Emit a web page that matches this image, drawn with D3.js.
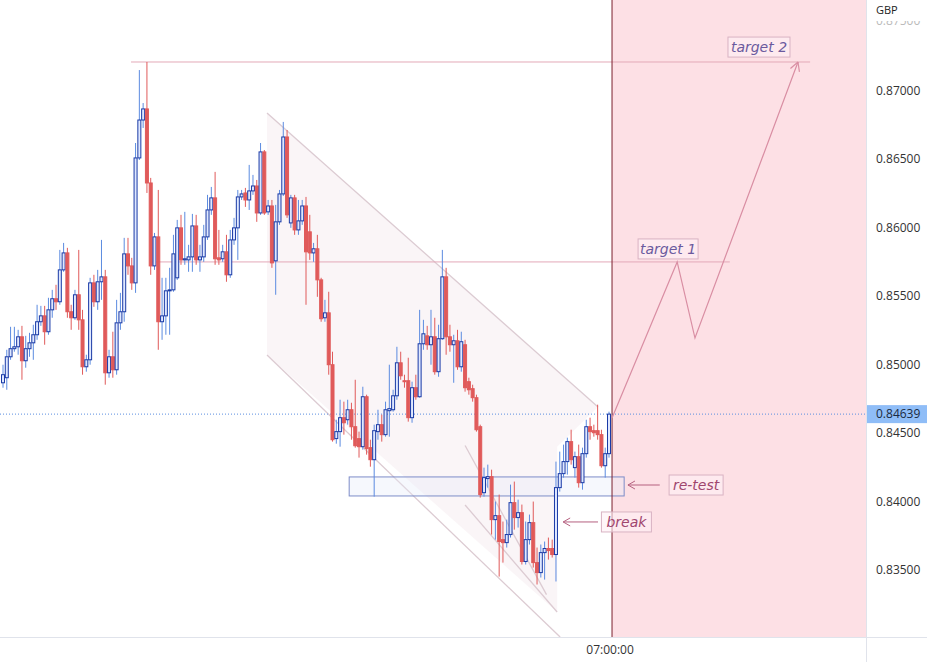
<!DOCTYPE html>
<html><head><meta charset="utf-8">
<script src="https://cdn.jsdelivr.net/npm/d3@7"></script>
<style>body{margin:0;background:#fff}svg{display:block;font-family:"Open Sans","DejaVu Sans",sans-serif}</style>
</head><body><svg id="c" width="927" height="662"></svg>
<script>
// OHLC: [open, high, low, close]
const candles = [
[0.84868,0.85000,0.84832,0.84927],[0.84905,0.85109,0.84817,0.85058],[0.85058,0.85277,0.85036,0.85117],[0.85117,0.85277,0.85095,0.85131],
[0.85131,0.85255,0.85073,0.85204],[0.85204,0.85284,0.84890,0.85029],[0.85029,0.85211,0.84978,0.85117],[0.85117,0.85233,0.85058,0.85160],
[0.85160,0.85292,0.85036,0.85219],[0.85219,0.85438,0.85182,0.85314],[0.85314,0.85430,0.85284,0.85357],[0.85357,0.85430,0.85146,0.85241],
[0.85241,0.85489,0.85219,0.85401],[0.85401,0.85547,0.85343,0.85482],[0.85482,0.85584,0.85401,0.85460],[0.85460,0.85839,0.85438,0.85693],
[0.85693,0.85890,0.85679,0.85817],[0.85817,0.85854,0.85343,0.85387],[0.85387,0.85438,0.85255,0.85343],[0.85343,0.85547,0.85328,0.85511],
[0.85511,0.85839,0.85255,0.85328],[0.85328,0.85401,0.84927,0.84985],[0.84985,0.85073,0.84949,0.85036],[0.85036,0.85635,0.85000,0.85598],
[0.85598,0.85657,0.85423,0.85460],[0.85460,0.85693,0.85401,0.85606],[0.85606,0.85912,0.85474,0.85642],[0.85642,0.85693,0.84854,0.84941],
[0.84941,0.85109,0.84905,0.85058],[0.85058,0.85241,0.84905,0.84963],[0.84963,0.85474,0.84927,0.85306],[0.85306,0.85525,0.85255,0.85387],
[0.85387,0.85927,0.85314,0.85810],[0.85810,0.85927,0.85657,0.85722],[0.85722,0.85781,0.85547,0.85598],[0.85598,0.86620,0.85525,0.86511],
[0.86511,0.87153,0.86496,0.86788],[0.86788,0.86912,0.86730,0.86869],[0.86869,0.87212,0.86255,0.86328],[0.86328,0.86365,0.85657,0.85722],
[0.85722,0.85963,0.85693,0.85934],[0.85934,0.86277,0.85109,0.85314],[0.85314,0.85635,0.85182,0.85357],[0.85357,0.85635,0.85219,0.85540],
[0.85540,0.85708,0.85219,0.85547],[0.85547,0.85949,0.85533,0.85810],[0.85635,0.86058,0.85620,0.86000],[0.86000,0.86095,0.85730,0.85766],
[0.85766,0.86117,0.85730,0.85774],[0.85766,0.85876,0.85679,0.85788],[0.85788,0.86102,0.85679,0.86014],[0.86014,0.86095,0.85730,0.85766],
[0.85766,0.85876,0.85679,0.85788],[0.85788,0.86022,0.85752,0.85934],[0.85934,0.86241,0.85912,0.86131],[0.86131,0.86299,0.86095,0.86219],
[0.86219,0.86409,0.85730,0.85774],[0.85781,0.85985,0.85730,0.85766],[0.85774,0.85876,0.85752,0.85825],[0.85825,0.85949,0.85606,0.85657],
[0.85657,0.85985,0.85635,0.85912],[0.85912,0.86073,0.85876,0.86000],[0.86000,0.86277,0.85766,0.86226],[0.86226,0.86277,0.86204,0.86248],
[0.86255,0.86292,0.86153,0.86204],[0.86204,0.86460,0.86131,0.86270],[0.86270,0.86387,0.86241,0.86306],[0.86306,0.86350,0.86044,0.86109],
[0.86109,0.86620,0.86095,0.86555],[0.86555,0.86569,0.86095,0.86109],[0.86117,0.86204,0.86095,0.86160],[0.86160,0.86204,0.85708,0.85744],
[0.85759,0.86168,0.85511,0.86044],[0.86044,0.86277,0.86022,0.86248],[0.86248,0.86774,0.86233,0.86664],[0.86664,0.86715,0.86073,0.86095],
[0.86036,0.86241,0.86000,0.86219],[0.86219,0.86241,0.85949,0.85985],[0.85985,0.86204,0.85949,0.86051],[0.86051,0.86204,0.86022,0.86160],
[0.86160,0.86226,0.85438,0.85825],[0.85971,0.86095,0.85766,0.85817],[0.85817,0.85890,0.85752,0.85847],[0.85847,0.85949,0.85496,0.85620],
[0.85620,0.85635,0.85314,0.85336],[0.85343,0.85474,0.85314,0.85379],[0.85379,0.85533,0.84927,0.85000],[0.85000,0.85095,0.84438,0.84452],
[0.84460,0.84598,0.84423,0.84511],[0.84511,0.84744,0.84401,0.84613],[0.84613,0.84730,0.84489,0.84576],[0.84598,0.84744,0.84562,0.84671],
[0.84671,0.84722,0.84452,0.84547],[0.84547,0.84890,0.84394,0.84408],[0.84460,0.84511,0.84321,0.84401],[0.84401,0.84839,0.84379,0.84766],
[0.84766,0.84781,0.84343,0.84387],[0.84394,0.84452,0.84255,0.84306],[0.84306,0.84562,0.84036,0.84518],[0.84511,0.84671,0.84452,0.84562],
[0.84562,0.84635,0.84438,0.84489],[0.84489,0.84730,0.84474,0.84671],[0.84664,0.85000,0.84474,0.84679],[0.84671,0.84817,0.84657,0.84773],
[0.84773,0.85131,0.84744,0.85014],[0.85014,0.85095,0.84890,0.84919],[0.84883,0.84927,0.84832,0.84876],[0.84883,0.85051,0.84584,0.84613],
[0.84613,0.84876,0.84576,0.84832],[0.84832,0.84927,0.84744,0.84766],[0.84766,0.85401,0.84759,0.85153],[0.85153,0.85328,0.85109,0.85226],
[0.85211,0.85284,0.85109,0.85146],[0.85146,0.85401,0.85000,0.85204],[0.85204,0.85343,0.84927,0.84949],[0.84949,0.85292,0.84912,0.85190],
[0.85190,0.85839,0.85182,0.85642],[0.85642,0.85708,0.85073,0.85204],[0.85204,0.85292,0.85095,0.85146],[0.85146,0.85219,0.84868,0.85175],
[0.85175,0.85255,0.84963,0.84985],[0.84985,0.85241,0.84949,0.85168],[0.85146,0.85182,0.84803,0.84832],[0.84876,0.84905,0.84781,0.84817],
[0.84825,0.84854,0.84730,0.84759],[0.84759,0.84781,0.84511,0.84525],[0.84547,0.84562,0.84029,0.84051],[0.84065,0.84248,0.84036,0.84175],
[0.84168,0.84270,0.84102,0.84182],[0.84182,0.84233,0.83759,0.83868],[0.83868,0.84000,0.83722,0.83897],[0.83897,0.84051,0.83452,0.83708],
[0.83722,0.83854,0.83554,0.83700],[0.83700,0.83868,0.83664,0.83759],[0.83759,0.84124,0.83737,0.83992],[0.83992,0.84146,0.83795,0.83883],
[0.83883,0.84014,0.83810,0.83919],[0.83919,0.83978,0.83540,0.83562],[0.83562,0.83854,0.83540,0.83722],[0.83722,0.83905,0.83686,0.83846],
[0.83846,0.84000,0.83518,0.83554],[0.83554,0.83664,0.83394,0.83481],[0.83481,0.83686,0.83445,0.83627],[0.83627,0.83708,0.83430,0.83657],
[0.83657,0.83737,0.83576,0.83642],[0.83657,0.83722,0.83591,0.83613],[0.83613,0.84292,0.83416,0.84102],[0.84102,0.84365,0.84073,0.84204],
[0.84204,0.84416,0.84175,0.84292],[0.84292,0.84467,0.84197,0.84438],[0.84438,0.84525,0.84270,0.84306],[0.84248,0.84365,0.84175,0.84328],
[0.84328,0.84416,0.84102,0.84138],[0.84138,0.84394,0.84087,0.84350],[0.84350,0.84598,0.84321,0.84547],[0.84547,0.84613,0.84452,0.84511],
[0.84518,0.84562,0.84474,0.84503],[0.84518,0.84708,0.84452,0.84489],[0.84489,0.84525,0.84248,0.84262],[0.84262,0.84394,0.84175,0.84350],
[0.84350,0.84657,0.84321,0.84639]
];
const priceTicks = [0.87,0.865,0.86,0.855,0.85,0.845,0.84,0.835];
const clippedTick = 0.875;
const timeTicks = [{i:160.8,label:"07:00:00"}];
const lastPrice = 0.84639;
const target1 = 0.85751, target2 = 0.87212;
const zone = [0.84180, 0.84041];
// annotations in (bar index, price)
const projection = [[160.8,0.84611],[178,0.85751],[182.7,0.85195],[209.9,0.87212]];
const channelUpper = [[69.7,0.86839],[157.1,0.84691]];
const channelLower = [[69.7,0.85071],[147.1,0.83010]];
const channelFill = [[69.7,0.86839],[157.1,0.84691],[146.3,0.84400],[146.3,0.83193],[69.7,0.85071]];
const innerLines = [[[122,0.83975],[146.3,0.83193]],[[122,0.84410],[143.5,0.83320]]];

const W=927,H=662, plotR=866, plotB=637;
const svg=d3.select("#c");
const x=d3.scaleLinear().domain([0,160]).range([3,609]);
const y=d3.scaleLinear().domain([0.835,0.87]).range([570,91]);
const line=d3.line().x(d=>x(d[0])).y(d=>y(d[1]));

const defs=svg.append("defs");
defs.append("clipPath").attr("id","pc").append("rect").attr("width",plotR).attr("height",plotB);
defs.append("clipPath").attr("id","tc").append("rect").attr("x",867).attr("y",21).attr("width",60).attr("height",20);
const g=svg.append("g").attr("clip-path","url(#pc)");

g.append("rect").attr("x",x(160.8)).attr("y",0).attr("width",plotR-x(160.8)).attr("height",plotB).attr("fill","#fde0e5");
g.append("path").attr("d",line(channelFill)+"Z").attr("fill","#f9f2f5").attr("opacity",0.8);
[channelUpper,channelLower,...innerLines].forEach(l=>g.append("path").attr("d",line(l)).attr("stroke","#dccbd2").attr("stroke-width",1.3).attr("fill","none"));
g.append("line").attr("x1",x(33.8)).attr("x2",x(213.1)).attr("y1",y(target2)).attr("y2",y(target2)).attr("stroke","#e3a9b8");
g.append("line").attr("x1",x(39.3)).attr("x2",x(191.9)).attr("y1",y(target1)).attr("y2",y(target1)).attr("stroke","#e3a9b8");
g.append("rect").attr("x",x(91.4)).attr("y",y(zone[0])).attr("width",x(164)-x(91.4)).attr("height",y(zone[1])-y(zone[0]))
 .attr("fill","rgba(230,234,250,0.35)").attr("stroke","#7d8cc8");
g.append("line").attr("x1",0).attr("x2",plotR).attr("y1",y(lastPrice)).attr("y2",y(lastPrice)).attr("stroke","#5b8fe0").attr("stroke-dasharray","1,2");

const cg=g.append("g");
candles.forEach((c,i)=>{
  const [o,h,l,cl]=c, up=cl>=o, cx=x(i);
  cg.append("line").attr("x1",cx).attr("x2",cx).attr("y1",y(h)).attr("y2",y(l)).attr("stroke",up?"#5b8be0":"#e05a5a");
  const top=y(Math.max(o,cl)), bh=Math.max(1,Math.abs(y(o)-y(cl)));
  cg.append("rect").attr("x",cx-1.5).attr("y",top).attr("width",3).attr("height",bh)
    .attr("fill",up?"#dfe8ff":"#e05a5a").attr("stroke",up?"#1a3aa6":"#e05a5a").attr("stroke-width",1);
});
g.append("line").attr("x1",x(160.8)).attr("x2",x(160.8)).attr("y1",0).attr("y2",plotB).attr("stroke","#7a1f2e");
g.append("path").attr("d",line(projection)).attr("stroke","#d98ea3").attr("stroke-width",1.2).attr("fill","none");
const pe=projection[3], pp=projection[2];
const ex=x(pe[0]), ey=y(pe[1]), ang=Math.atan2(ey-y(pp[1]),ex-x(pp[0]));
[0.5,-0.5].forEach(a=>g.append("line").attr("x1",ex).attr("y1",ey)
  .attr("x2",ex-10*Math.cos(ang+a)).attr("y2",ey-10*Math.sin(ang+a)).attr("stroke","#d98ea3").attr("stroke-width",1.2));

function label(cx,cy,w,text,col){
  g.append("rect").attr("x",cx-w/2).attr("y",cy-10).attr("width",w).attr("height",20).attr("fill","rgba(255,240,245,0.6)").attr("stroke","#d9b3c3");
  g.append("text").attr("x",cx).attr("y",cy+5).attr("text-anchor","middle").attr("font-style","italic").attr("font-size",14)
   .attr("fill",col).attr("font-family","'DejaVu Sans',sans-serif").text(text);
}
label(x(199.6),y(0.87321),62,"target 2","#6b5a9e");
label(x(175.6),y(0.85846),60,"target 1","#6b5a9e");
label(x(183),y(0.84121),54,"re-test","#a0466e");
label(x(164.6),y(0.83851),50,"break","#a0466e");
function arrow(x1,x2,p){
  const yy=y(p);
  g.append("line").attr("x1",x(x1)).attr("x2",x(x2)).attr("y1",yy).attr("y2",yy).attr("stroke","#b5607f");
  [-4,4].forEach(d=>g.append("line").attr("x1",x(x2)).attr("y1",yy).attr("x2",x(x2)+7).attr("y2",yy+d).attr("stroke","#b5607f"));
}
arrow(173.4,165,0.84121);
arrow(157.1,147.9,0.83851);

svg.append("line").attr("x1",plotR+0.5).attr("x2",plotR+0.5).attr("y1",0).attr("y2",H).attr("stroke","#e0e3eb");
svg.append("line").attr("x1",0).attr("x2",W).attr("y1",plotB+0.5).attr("y2",plotB+0.5).attr("stroke","#e0e3eb");
const ya=svg.append("g");
priceTicks.forEach(t=>ya.append("text").attr("x",876).attr("y",y(t)+4).attr("font-size",12).attr("fill","#333").text(d3.format(".5f")(t)));
ya.append("text").attr("clip-path","url(#tc)").attr("x",876).attr("y",y(clippedTick)+2).attr("font-size",12).attr("fill","#bbb").text(d3.format(".5f")(clippedTick));
ya.append("text").attr("x",876).attr("y",14).attr("font-size",11).attr("fill","#222").text("GBP");
ya.append("rect").attr("x",867).attr("y",y(lastPrice)-9).attr("width",60).attr("height",18).attr("fill","#8fbdf7");
ya.append("text").attr("x",876).attr("y",y(lastPrice)+4).attr("font-size",12).attr("fill","#1a2a40").text(d3.format(".5f")(lastPrice));
timeTicks.forEach(t=>svg.append("text").attr("x",x(t.i)-2).attr("y",654).attr("text-anchor","middle").attr("font-size",12).attr("fill","#333").text(t.label));
</script></body></html>
